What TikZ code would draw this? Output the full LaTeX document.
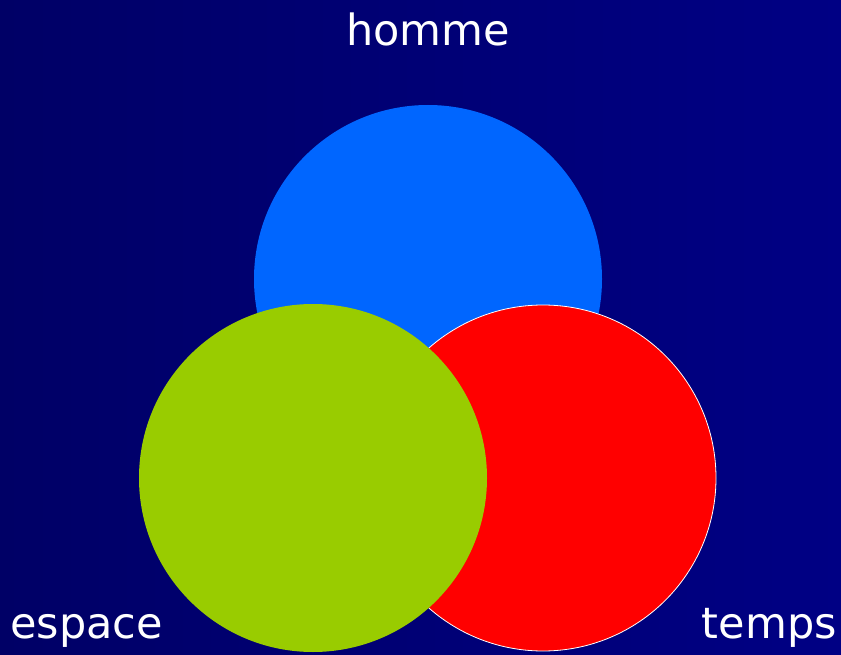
\documentclass[tikz,border=0pt]{standalone}
\usepackage{fontspec}
\setmainfont{DejaVu Sans}
\definecolor{bgL}{HTML}{000066}
\definecolor{bgR}{HTML}{000084}
\definecolor{cblue}{HTML}{0066FF}
\definecolor{cgreen}{HTML}{99CC00}
\definecolor{cred}{HTML}{FF0000}
\begin{document}
\begin{tikzpicture}[x=1pt,y=-1pt,
  lbl/.style={text=white,font=\fontsize{43}{50}\selectfont,inner sep=0pt},
  disc/.style={circle,inner sep=0pt,draw=none}]
\shade[left color=bgL,right color=bgR] (0,0) rectangle (841,655);
\useasboundingbox (0,0) rectangle (841,655);
\node[disc,fill=cblue,minimum size=348pt] (homme) at (428,279) {};
\node[disc,fill=cred,draw=white,line width=0.8pt,minimum size=346pt] (temps) at (543,478) {};
\node[disc,fill=cgreen,minimum size=348pt] (espace) at (313,478) {};
\node[lbl,anchor=base] (thomme) at (428,46) {homme};
\node[lbl,anchor=base west] (tespace) at (10,638) {espace};
\node[lbl,anchor=base east] (ttemps) at (837,638) {temps};
\end{tikzpicture}
\end{document}
